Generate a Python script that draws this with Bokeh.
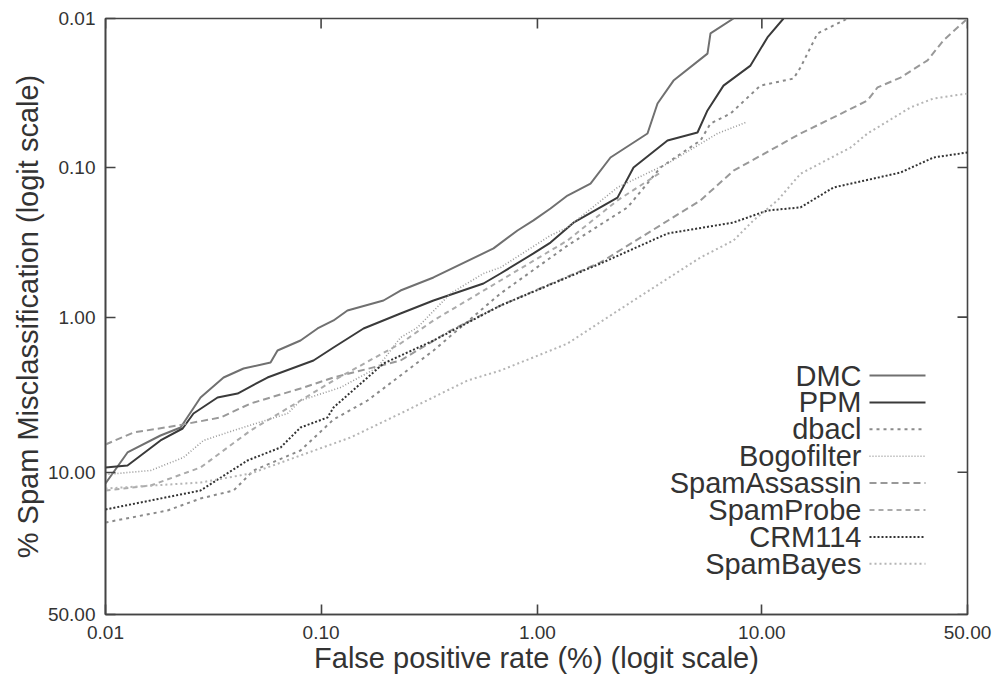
import numpy as np
from bokeh.plotting import figure
from bokeh.models import (Range1d, FixedTicker, LinearAxis, Label, Arrow,
                          CustomJSTickFormatter)
from bokeh.embed import file_html
from bokeh.resources import INLINE

# ---- data: false positive rate (%) and spam misclassification (%) ----
tick_values = [0.01, 0.1, 1, 10, 50]

dmc_fp = [0.01, 0.01265, 0.018, 0.0223, 0.0276, 0.0353, 0.0437, 0.0583, 0.0628, 0.0803,
          0.0963, 0.1142, 0.1325, 0.1946, 0.2333, 0.3316, 0.6278, 0.8096, 0.959, 1.148,
          1.374, 1.750, 2.157, 3.170, 3.516, 4.144, 5.851, 6.031, 7.584]
dmc_miss = [11.67, 7.558, 5.917, 5.266, 3.378, 2.503, 2.185, 1.995, 1.663, 1.429,
            1.189, 1.052, 0.903, 0.775, 0.665, 0.544, 0.348, 0.264, 0.226, 0.188,
            0.154, 0.128, 0.0856, 0.0591, 0.0372, 0.0261, 0.0172, 0.0126, 0.01]

ppm_fp = [0.01, 0.01265, 0.018, 0.0228, 0.0256, 0.0331, 0.041, 0.0564, 0.0922, 0.1142,
          0.1573, 0.2333, 0.3316, 0.5643, 0.6762, 0.959, 1.148, 1.463, 2.321, 2.743,
          3.897, 5.291, 5.851, 6.868, 8.958, 10.55, 12.28]
ppm_miss = [9.349, 9.091, 6.360, 5.344, 4.284, 3.378, 3.183, 2.503, 1.936, 1.589,
            1.189, 0.946, 0.775, 0.597, 0.512, 0.376, 0.318, 0.234, 0.159, 0.0999,
            0.0658, 0.0582, 0.0414, 0.0282, 0.0207, 0.0134, 0.01]

dbacl_fp = [0.01, 0.0194, 0.0276, 0.0393, 0.0486, 0.0803, 0.1142, 0.1641, 0.2333, 0.3316,
            0.6762, 1.374, 2.576, 3.626, 5.453, 6.031, 7.362, 9.87, 13.48, 14.38, 16.76, 21.72]
dbacl_miss = [19.44, 16.70, 14.27, 12.83, 9.75, 7.344, 4.682, 3.533, 2.429, 1.663,
              0.696, 0.333, 0.185, 0.0999, 0.0658, 0.0507, 0.0434, 0.0282, 0.0253, 0.0213,
              0.0126, 0.01]

bogo_fp = [0.01, 0.0162, 0.023, 0.0285, 0.0393, 0.0699, 0.0803, 0.123, 0.1826, 0.2333,
           0.2796, 0.3974, 0.5643, 0.6762, 1.148, 1.374, 2.321, 3.897, 6.47, 8.533]
bogo_miss = [10.31, 9.75, 8.114, 6.360, 5.502, 4.284, 3.533, 2.909, 2.152, 1.365,
             1.171, 0.696, 0.512, 0.467, 0.285, 0.252, 0.136, 0.094, 0.0591, 0.0499]

sa_fp = [0.01, 0.0135, 0.0216, 0.0342, 0.0471, 0.0803, 0.1142, 0.2333, 0.3974, 0.6762,
         1.943, 5.453, 7.584, 14.38, 19.28, 25.57, 27.67, 32.84, 39.48, 43.62, 50.0]
sa_miss = [6.739, 5.665, 5.113, 4.546, 3.694, 2.953, 2.503, 1.936, 1.227, 0.837,
           0.432, 0.166, 0.105, 0.0591, 0.0461, 0.0355, 0.029, 0.0249, 0.0191, 0.014, 0.01]

sp_fp = [0.01, 0.0162, 0.0276, 0.0471, 0.0803, 0.1142, 0.2333, 0.3316, 0.6762, 1.374,
         2.321, 3.626]
sp_miss = [12.83, 11.99, 9.349, 5.502, 3.533, 2.618, 1.495, 1.052, 0.570, 0.308,
           0.166, 0.108]

crm_fp = [0.01, 0.0276, 0.0456, 0.0649, 0.0803, 0.1071, 0.1142, 0.1946, 0.3316, 0.6762,
          1.943, 3.897, 7.584, 10.55, 14.38, 19.28, 32.84, 41.02, 50.0]
crm_miss = [16.48, 12.83, 8.467, 7.035, 5.266, 4.546, 3.919, 2.025, 1.429, 0.837,
            0.439, 0.2765, 0.2335, 0.194, 0.185, 0.136, 0.108, 0.0856, 0.0792]

sb_fp = [0.01, 0.0276, 0.0471, 0.0803, 0.1369, 0.2333, 0.4762, 0.6762, 1.148, 1.374,
         2.743, 5.453, 7.584, 9.22, 11.61, 14.38, 22.27, 25.57, 32.84, 35.23, 41.02, 50.0]
sb_miss = [12.49, 11.51, 10.17, 7.887, 6.091, 4.284, 2.618, 2.252, 1.663, 1.495,
           0.775, 0.400, 0.308, 0.226, 0.166, 0.110, 0.0734, 0.0591, 0.0434, 0.0395,
           0.0344, 0.0319]

series = [
    ("DMC", dmc_fp, dmc_miss, "#707070", 2.0, "solid"),
    ("PPM", ppm_fp, ppm_miss, "#3a3a3a", 2.0, "solid"),
    ("dbacl", dbacl_fp, dbacl_miss, "#8a8a8a", 2.0, "3 4"),
    ("Bogofilter", bogo_fp, bogo_miss, "#9a9a9a", 1.6, "1 2"),
    ("SpamAssassin", sa_fp, sa_miss, "#999999", 2.0, "7 4"),
    ("SpamProbe", sp_fp, sp_miss, "#ababab", 2.0, "5 4"),
    ("CRM114", crm_fp, crm_miss, "#333333", 2.0, "2 2"),
    ("SpamBayes", sb_fp, sb_miss, "#b5b5b5", 2.0, "2 3"),
]


def logit_pct(p):
    f = np.asarray(p, dtype=float) / 100.0
    return np.log(f / (1.0 - f))


FRAME_W, FRAME_H = 862, 596
X_LO, X_HI = float(logit_pct(0.01)), float(logit_pct(50))
Y_LO, Y_HI = -X_HI, -X_LO

p = figure(frame_width=FRAME_W, frame_height=FRAME_H, output_backend="svg",
           toolbar_location=None,
           x_range=Range1d(X_LO, X_HI), y_range=Range1d(Y_LO, Y_HI),
           x_axis_location=None, y_axis_location=None,
           min_border_left=105, min_border_right=33, min_border_top=18, min_border_bottom=65)
p.outline_line_color = "#444444"
p.outline_line_width = 1.6
p.grid.visible = False
p.background_fill_color = "white"

xticks = [float(v) for v in logit_pct(tick_values)]
yticks = [-v for v in xticks]

TXT = "#333333"
FONT = "Liberation Sans"
TICK_LEN = 10


def style_axis(ax):
    ax.axis_line_color = "#444444"
    ax.axis_line_width = 1.6
    ax.major_tick_line_color = "#444444"
    ax.major_tick_line_width = 1.6
    ax.major_tick_in = TICK_LEN
    ax.major_tick_out = 0
    ax.minor_tick_line_color = None
    ax.major_label_text_font = FONT
    ax.major_label_text_font_size = "19px"
    ax.major_label_text_color = TXT
    ax.axis_label_text_font = FONT
    ax.axis_label_text_font_style = "normal"
    ax.axis_label_text_font_size = "29px"
    ax.axis_label_text_color = TXT


xfmt = CustomJSTickFormatter(code="return (100/(1+Math.exp(-tick))).toFixed(2);")
yfmt = CustomJSTickFormatter(code="return (100/(1+Math.exp(tick))).toFixed(2);")

xb = LinearAxis(ticker=FixedTicker(ticks=xticks), formatter=xfmt,
                axis_label="False positive rate (%) (logit scale)")
style_axis(xb)
xb.major_label_standoff = 11
xb.axis_label_standoff = 0
p.add_layout(xb, "below")

yl = LinearAxis(ticker=FixedTicker(ticks=yticks), formatter=yfmt,
                axis_label="% Spam Misclassification (logit scale)")
style_axis(yl)
yl.major_label_standoff = 10
yl.axis_label_standoff = 1
p.add_layout(yl, "left")

# inward ticks on the top and right edges of the box
dy = TICK_LEN * (Y_HI - Y_LO) / FRAME_H
dx = TICK_LEN * (X_HI - X_LO) / FRAME_W
p.segment(x0=xticks, y0=[Y_HI] * len(xticks), x1=xticks, y1=[Y_HI - dy] * len(xticks),
          line_color="#444444", line_width=1.6)
p.segment(x0=[X_HI] * len(yticks), y0=yticks, x1=[X_HI - dx] * len(yticks), y1=yticks,
          line_color="#444444", line_width=1.6)

for name, fp, miss, color, lw, dash in series:
    p.line(logit_pct(fp), -logit_pct(miss), line_color=color, line_width=lw,
           line_dash=dash)

# legend: name on the left, line sample on the right
row_h = 26.9
for i, (name, fp, miss, color, lw, dash) in enumerate(series):
    yy = 239 - i * row_h
    p.add_layout(Label(x=756, y=yy, x_units="screen", y_units="screen",
                       text=name, text_align="right", text_baseline="middle",
                       text_font=FONT, text_font_size="29px", text_color=TXT))
    p.add_layout(Arrow(x_start=764, y_start=yy, x_end=820, y_end=yy,
                       start_units="screen", end_units="screen", start=None, end=None,
                       line_color=color, line_width=lw, line_dash=dash))

open("out.html", "w").write(file_html(p, INLINE))
